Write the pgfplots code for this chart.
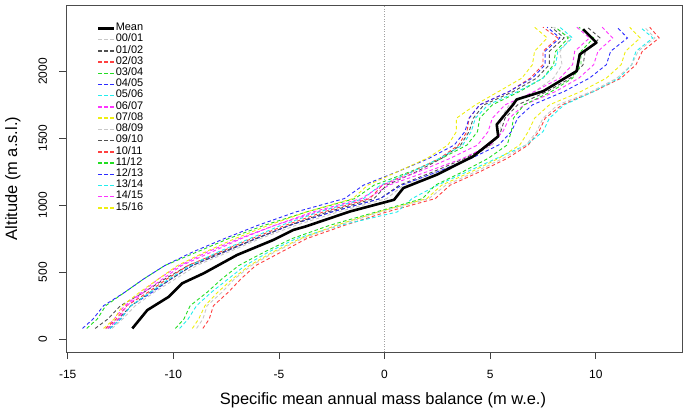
\documentclass[border=0pt]{standalone}
\usepackage{fontspec}
\setmainfont{Liberation Sans}
\usepackage{pgfplots}
\usepackage{pgfplotstable}
\pgfplotsset{compat=1.18}
\definecolor{cLG}{HTML}{C8C8C8}
\definecolor{cDG}{HTML}{505050}
\definecolor{cR}{HTML}{FF4040}
\definecolor{cG}{HTML}{22DD22}
\definecolor{cB}{HTML}{2B2BFF}
\definecolor{cC}{HTML}{22EEEE}
\definecolor{cM}{HTML}{FF33FF}
\definecolor{cY}{HTML}{EEEE11}

\pgfplotstableread{
alt s1 s2 s3 s4 s5 s6 s7 s8 s9 s10 s11 s12 s13 s14 s15 s16
80  -12.9 -13.7 -8.6 -14.1 -13.0 -9.7 -13.2 -9.1 -8.9 -13.1 -13.2 -9.9 -14.3 -13.0 -13.1 -13.3
150 -12.4 -13.1 -8.3 -13.6 -12.5 -9.3 -12.8 -8.8 -8.6 -12.6 -12.7 -9.5 -13.8 -12.5 -12.6 -12.8
250 -11.8 -12.5 -8.1 -13.2 -12.0 -8.9 -12.3 -8.5 -8.4 -12.0 -12.2 -9.2 -13.3 -12.0 -12.2 -12.4
350 -10.9 -11.4 -7.4 -12.3 -11.0 -8.2 -11.5 -7.9 -7.7 -11.1 -11.2 -8.4 -12.3 -11.1 -11.4 -11.6
450 -9.9 -10.4 -6.8 -11.4 -10.1 -7.4 -10.7 -7.2 -7.1 -10.1 -10.3 -7.7 -11.4 -10.2 -10.5 -10.7
550 -8.9 -9.3 -6.1 -10.4 -9.1 -6.6 -9.7 -6.4 -6.3 -9.1 -9.3 -6.9 -10.4 -9.2 -9.6 -9.8
650 -7.4 -7.7 -4.9 -8.9 -7.6 -5.5 -8.4 -5.3 -5.2 -7.6 -7.8 -5.7 -9.1 -7.9 -8.2 -8.5
750 -5.9 -6.1 -3.7 -7.4 -6.1 -4.2 -6.9 -4.0 -3.9 -6.1 -6.3 -4.4 -7.6 -6.4 -6.8 -7.1
850 -4.2 -4.5 -1.9 -5.7 -4.5 -2.1 -5.2 -2.3 -2.2 -4.5 -4.7 -2.6 -6.0 -4.9 -5.2 -5.5
950 -2.2 -2.5 0.1 -3.7 -2.5 0.6 -3.2 -0.3 -0.2 -2.7 -2.9 -0.4 -4.2 -3.1 -3.4 -3.7
1050 0.1 -0.2 2.4 -1.4 -0.2 1.3 -0.8 2.0 2.1 -0.5 -0.7 1.8 -1.9 -1.0 -1.1 -1.5
1150 0.9 0.7 3.1 -0.5 0.8 2.5 0.2 2.7 2.9 0.1 -0.1 2.4 -1.0 -0.2 -0.1 -0.8
1250 2.5 2.3 4.5 1.2 2.5 3.9 2.0 4.1 4.3 1.5 1.3 3.7 0.6 1.3 1.6 0.6
1350 4.0 3.8 5.8 2.7 4.1 5.3 3.7 5.4 5.6 2.7 2.6 4.9 2.1 2.6 3.1 2.0
1450 5.1 5.0 6.8 3.9 5.4 6.7 5.0 6.4 6.7 3.6 3.5 5.8 3.3 3.7 4.4 3.0
1550 5.5 5.5 7.3 4.4 6.0 7.5 5.6 6.8 7.2 4.0 3.9 6.0 3.8 4.1 4.9 3.4
1650 5.5 5.7 7.6 4.5 6.3 7.8 5.9 7.1 7.5 4.2 4.0 6.1 4.0 4.3 5.1 3.4
1750 5.9 6.3 8.4 5.1 7.0 8.5 6.6 7.8 8.2 4.7 4.5 6.6 4.5 4.9 5.7 4.3
1850 7.1 7.7 9.9 6.4 8.5 9.9 8.1 9.3 9.8 6.1 5.9 7.9 5.9 6.3 7.1 5.4
1950 8.0 8.8 11.2 7.5 9.7 11.1 9.2 10.5 11.0 7.2 6.9 8.9 7.0 7.5 8.3 6.5
2050 8.4 9.4 11.9 8.0 10.5 11.7 9.9 11.2 11.7 7.8 7.5 9.3 7.6 8.1 8.9 7.0
2150 8.3 9.5 12.2 8.1 10.7 11.9 10.1 11.4 12.0 7.8 7.5 9.3 7.6 8.2 9.0 7.1
2250 8.8 10.2 13.0 8.7 11.5 12.7 10.8 12.1 12.8 8.5 8.2 9.9 8.3 8.9 9.7 7.7
2330 8.0 9.6 12.55 8.1 11.0 12.1 10.3 11.6 12.3 7.9 7.5 9.2 7.7 8.3 9.1 7.1
}\profiles

\begin{document}
\begin{tikzpicture}
\begin{axis}[
  at={(0,0)}, anchor=south west,
  scale only axis, width=616bp, height=347bp,
  xmin=-15.08, xmax=14.08, ymin=-96, ymax=2496,
  xtick={-15,-10,-5,0,5,10}, xticklabels={-15,-10,-5,0,5,10},
  ytick={0,500,1000,1500,2000}, yticklabels={0,500,1000,1500,2000},
  tick align=outside, major tick length=6.5bp,
  xtick pos=bottom, ytick pos=left,
  every tick/.style={black!75, line width=0.7bp},
  axis line style={black!70, line width=0.8bp},
  tick label style={font=\fontsize{12}{12}\selectfont},
  xticklabel style={anchor=base, yshift=-19.8bp},
  yticklabel style={rotate=90, anchor=base, yshift=12.5bp},
  xlabel={Specific mean annual mass balance (m w.e.)},
  ylabel={Altitude (m a.s.l.)},
  label style={font=\fontsize{16.5}{18}\selectfont},
  xlabel style={at={(axis description cs:0.5146,-0.1499)}, anchor=base},
  ylabel style={at={(axis description cs:-0.0795,0.5)}, anchor=base},
  legend style={draw=none, fill=none, at={(axis description cs:0.0498,0.949)}, anchor=north west,
    inner sep=0pt, row sep=0pt, font=\fontsize{11}{11}\selectfont,
    nodes={inner sep=0pt, text height=7.8bp, text depth=3.41bp},
    /tikz/every even column/.append style={column sep=8.2bp}},
  legend cell align=left,
  legend image code/.code={\draw[#1, line width=1.4bp] (0bp,0bp) -- (16.3bp,0bp);},
  ds/.style={line width=0.9bp, dash pattern=on 3.5bp off 2.5bp},
]
\addplot[cLG!80!black, line width=0.8bp, dash pattern=on 1bp off 1.5bp, forget plot] coordinates {(0,-96) (0,2496)};
\addlegendimage{legend image code/.code={\draw[black, line width=2.6bp] (0bp,0bp) -- (16.3bp,0bp);}}
\addlegendentry{Mean}
\addplot[cLG, ds] table[x=s1, y=alt]{\profiles}; \addlegendentry{00/01}
\addplot[cDG, ds] table[x=s2, y=alt]{\profiles}; \addlegendentry{01/02}
\addplot[cR, ds] table[x=s3, y=alt]{\profiles}; \addlegendentry{02/03}
\addplot[cG, ds] table[x=s4, y=alt]{\profiles}; \addlegendentry{03/04}
\addplot[cB, ds] table[x=s5, y=alt]{\profiles}; \addlegendentry{04/05}
\addplot[cC, ds] table[x=s6, y=alt]{\profiles}; \addlegendentry{05/06}
\addplot[cM, ds] table[x=s7, y=alt]{\profiles}; \addlegendentry{06/07}
\addplot[cY, ds] table[x=s8, y=alt]{\profiles}; \addlegendentry{07/08}
\addplot[cLG, ds] table[x=s9, y=alt]{\profiles}; \addlegendentry{08/09}
\addplot[cDG, ds] table[x=s10, y=alt]{\profiles}; \addlegendentry{09/10}
\addplot[cR, ds] table[x=s11, y=alt]{\profiles}; \addlegendentry{10/11}
\addplot[cG, ds] table[x=s12, y=alt]{\profiles}; \addlegendentry{11/12}
\addplot[cB, ds] table[x=s13, y=alt]{\profiles}; \addlegendentry{12/13}
\addplot[cC, ds] table[x=s14, y=alt]{\profiles}; \addlegendentry{13/14}
\addplot[cM, ds] table[x=s15, y=alt]{\profiles}; \addlegendentry{14/15}
\addplot[cY, ds] table[x=s16, y=alt]{\profiles}; \addlegendentry{15/16}
\addplot[black, line width=2.6bp, line join=round, forget plot] coordinates {
(-11.94,80) (-11.23,217) (-10.21,317) (-9.58,417) (-8.56,492) (-6.98,629)
(-5.25,742) (-4.31,816) (-3.75,841) (-1.63,954) (0.45,1041) (0.89,1129)
(2.47,1228) (4.20,1366) (5.38,1515) (5.31,1603) (6.09,1753) (6.25,1790)
(7.51,1852) (9.09,2002) (9.24,2127) (10.03,2215) (9.40,2315)};
\end{axis}
\pgfresetboundingbox
\path[use as bounding box] (-66bp,-59bp) rectangle (620bp,352bp);
\end{tikzpicture}
\end{document}
